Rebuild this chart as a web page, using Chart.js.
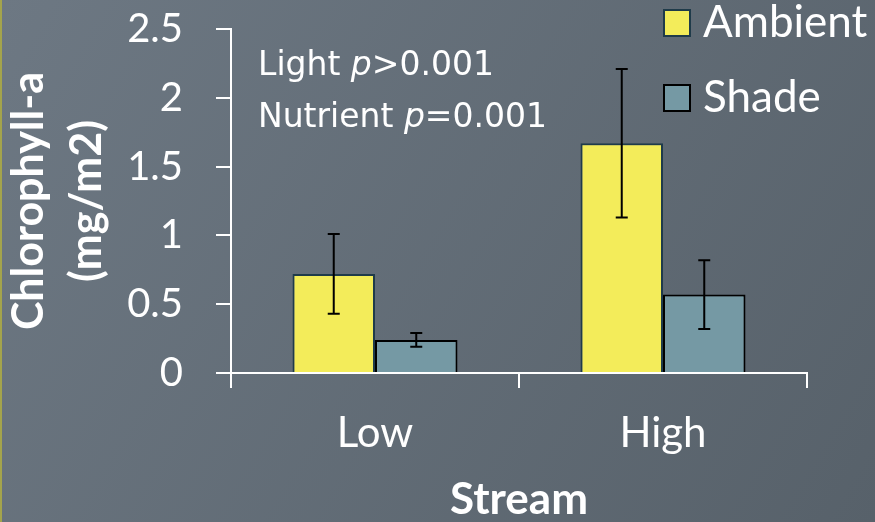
<!DOCTYPE html>
<html>
<head>
<meta charset="utf-8">
<script src="https://cdn.jsdelivr.net/npm/chart.js@4/dist/chart.umd.min.js"></script>
<style>
  html, body { margin: 0; padding: 0; background: #646f79; }
  #wrap { width: 875px; height: 522px; }
</style>
</head>
<body>
<div id="wrap"><canvas id="chart" width="875" height="522"></canvas></div>
<script>
// Chlorophyll-a by stream nutrient level and light treatment
const categories = ['Low', 'High'];
const seriesNames = ['Ambient', 'Shade'];
const ambientMeans = [0.72, 1.67];
const ambientErrors = [0.29, 0.54];
const shadeMeans = [0.24, 0.57];
const shadeErrors = [0.05, 0.25];
const yTickLabels = ['0', '0.5', '1', '1.5', '2', '2.5'];
const statLines = [
  ['Light ', 'p', '>0.001'],
  ['Nutrient ', 'p', '=0.001']
];

const FONT = 'Lato, "Open Sans", sans-serif';
const NOTE_FONT = '"DejaVu Sans", sans-serif';

// slide-style gradient backdrop with a thin olive rule on the left edge
const backdrop = {
  id: 'backdrop',
  beforeDraw(chart) {
    const { ctx, width, height } = chart;
    ctx.save();
    const g = ctx.createLinearGradient(0, 0, width, height);
    g.addColorStop(0, '#6d7883');
    g.addColorStop(1, '#57616a');
    ctx.fillStyle = g;
    ctx.fillRect(0, 0, width, height);
    ctx.fillStyle = '#a4a44c';
    ctx.fillRect(0, 0, 2, height);
    ctx.restore();
  }
};

// standard-error whiskers on each bar
const errorBars = {
  id: 'errorBars',
  afterDatasetsDraw(chart) {
    const { ctx } = chart;
    const y = chart.scales.y;
    ctx.save();
    ctx.strokeStyle = '#000000';
    ctx.lineWidth = 2;
    chart.data.datasets.forEach((ds, di) => {
      const meta = chart.getDatasetMeta(di);
      meta.data.forEach((bar, i) => {
        const v = ds.data[i];
        const e = ds.errors[i];
        const yTop = y.getPixelForValue(v + e);
        const yBot = y.getPixelForValue(v - e);
        const x = bar.x;
        ctx.beginPath();
        ctx.moveTo(x, yTop); ctx.lineTo(x, yBot);
        ctx.moveTo(x - 6, yTop); ctx.lineTo(x + 6, yTop);
        ctx.moveTo(x - 6, yBot); ctx.lineTo(x + 6, yBot);
        ctx.stroke();
      });
    });
    ctx.restore();
  }
};

// legend stacked at the upper right
const sideLegend = {
  id: 'sideLegend',
  afterDraw(chart) {
    const { ctx } = chart;
    ctx.save();
    ctx.font = '44px ' + FONT;
    ctx.textBaseline = 'middle';
    ctx.textAlign = 'left';
    chart.data.datasets.forEach((ds, i) => {
      const cy = 23 + i * 75;
      ctx.fillStyle = ds.backgroundColor;
      ctx.fillRect(664, cy - 13, 26, 26);
      ctx.strokeStyle = ds.legendEdge;
      ctx.lineWidth = 2;
      ctx.strokeRect(664, cy - 13, 26, 26);
      ctx.fillStyle = '#ffffff';
      ctx.fillText(ds.label, 703, cy);
    });
    ctx.restore();
  }
};

// significance note inside the plot area
const statNote = {
  id: 'statNote',
  afterDraw(chart) {
    const { ctx } = chart;
    ctx.save();
    ctx.fillStyle = '#ffffff';
    ctx.textBaseline = 'middle';
    ctx.textAlign = 'left';
    statLines.forEach((parts, li) => {
      let x = 258;
      const y = 66 + li * 52;
      parts.forEach((p, pi) => {
        ctx.font = (pi === 1 ? 'italic ' : '') + '33px ' + NOTE_FONT;
        ctx.fillText(p, x, y);
        x += ctx.measureText(p).width;
      });
    });
    ctx.restore();
  }
};

new Chart(document.getElementById('chart'), {
  type: 'bar',
  data: {
    labels: categories,
    datasets: [
      {
        label: seriesNames[0],
        data: ambientMeans,
        errors: ambientErrors,
        backgroundColor: '#f3ec5a',
        borderColor: '#1f3b4a',
        legendEdge: '#1f3b4a',
        borderWidth: 2,
        categoryPercentage: 0.573,
        barPercentage: 1.0
      },
      {
        label: seriesNames[1],
        data: shadeMeans,
        errors: shadeErrors,
        backgroundColor: '#7599a4',
        borderColor: '#000000',
        legendEdge: '#000000',
        borderWidth: 2,
        categoryPercentage: 0.573,
        barPercentage: 1.0
      }
    ]
  },
  options: {
    responsive: false,
    animation: false,
    devicePixelRatio: 1,
    layout: { padding: { left: 0, top: 29, right: 68, bottom: 0 } },
    plugins: {
      legend: { display: false },
      tooltip: { enabled: false }
    },
    scales: {
      x: {
        offset: true,
        grid: {
          display: true,
          offset: true,
          drawOnChartArea: false,
          drawTicks: true,
          tickLength: 15,
          color: '#ffffff',
          lineWidth: 2
        },
        border: { display: true, color: '#ffffff', width: 2 },
        ticks: {
          color: '#ffffff',
          font: { family: FONT, size: 42 },
          padding: 20
        },
        title: {
          display: true,
          text: 'Stream',
          color: '#ffffff',
          font: { family: FONT, size: 44, weight: 'bold', lineHeight: 1.0 },
          padding: { top: 0, bottom: 0 }
        },
        afterFit(scale) {
          scale.height = 149;
          scale.paddingLeft = 0;
          scale.paddingRight = 0;
        }
      },
      y: {
        min: 0,
        max: 2.5,
        grid: {
          display: true,
          drawOnChartArea: false,
          drawTicks: true,
          tickLength: 15,
          color: '#ffffff',
          lineWidth: 2
        },
        border: { display: true, color: '#ffffff', width: 2 },
        ticks: {
          stepSize: 0.5,
          color: '#ffffff',
          font: { family: FONT, size: 40 },
          padding: 33,
          callback: (v, i) => yTickLabels[i]
        },
        title: {
          display: true,
          text: ['Chlorophyll-a', '(mg/m2)'],
          color: '#ffffff',
          font: { family: FONT, size: 43, weight: 'bold', lineHeight: 1.35 },
          padding: { top: 0, bottom: 0 }
        },
        afterFit(scale) {
          scale.width = 231;
          scale.paddingTop = 0;
          scale.paddingBottom = 0;
        }
      }
    }
  },
  plugins: [backdrop, errorBars, sideLegend, statNote]
});
</script>
</body>
</html>
